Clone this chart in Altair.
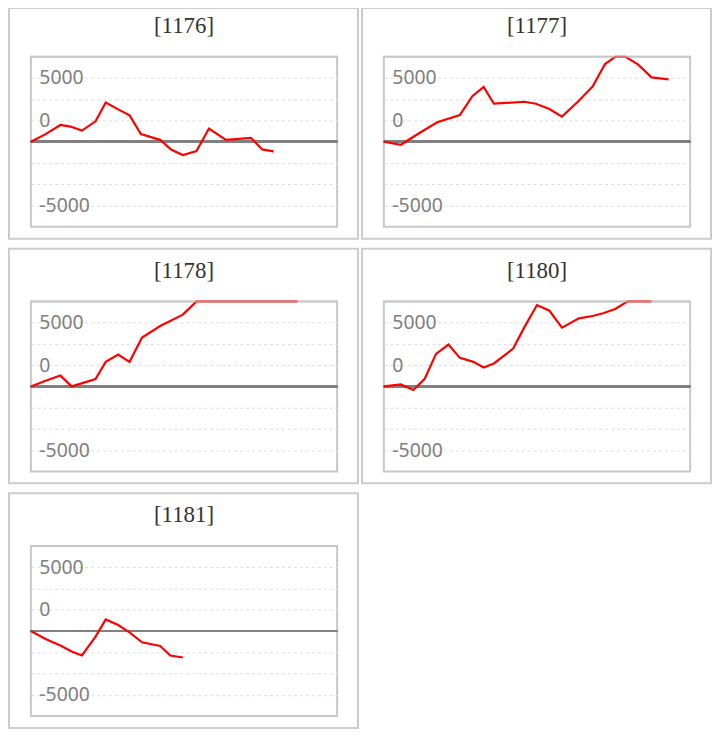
import altair as alt
import pandas as pd

# ---- data ----
panel_ids = ["[1176]", "[1177]", "[1178]", "[1180]", "[1181]"]

x_1176 = [0, 1.3, 2.6, 3.5, 4.5, 5.7, 6.6, 7.7, 8.7, 9.7, 11.4, 12.4, 13.4, 14.6, 15.7, 17.2, 19.4, 20.4, 21.4]
y_1176 = [0, 900, 1980, 1790, 1320, 2410, 4630, 3810, 3110, 900, 230, -930, -1560, -1090, 1560, 230, 470, -900, -1130]

x_1177 = [0, 1.5, 3.1, 4.7, 6.7, 7.8, 8.8, 9.7, 12.4, 13.4, 14.6, 15.7, 17.1, 18.4, 19.5, 20.4, 21.3, 22.4, 23.6, 25.1]
y_1177 = [0, -350, 1000, 2300, 3150, 5370, 6460, 4480, 4710, 4480, 3850, 2960, 4700, 6500, 9140, 10500, 10400, 9100, 7580, 7350]

x_1178 = [0, 1.3, 2.6, 3.6, 5.7, 6.6, 7.7, 8.7, 9.8, 11.4, 13.4, 14.6, 15.7, 17.2, 19.4, 20.4, 21.4, 22.4, 23.5]
y_1178 = [0, 660, 1290, 0, 860, 2890, 3750, 2890, 5740, 7110, 8440, 10200, 11000, 11600, 12100, 12600, 12300, 12800, 13200]

x_1180 = [0, 1.5, 2.6, 3.6, 4.6, 5.7, 6.7, 7.9, 8.8, 9.7, 11.4, 12.4, 13.5, 14.6, 15.7, 17.2, 18.4, 19.4, 20.4, 21.5, 22.4, 23.6]
y_1180 = [0, 235, -430, 900, 3830, 4920, 3360, 2890, 2230, 2700, 4450, 7000, 9570, 8900, 6910, 8000, 8280, 8630, 9100, 10100, 10600, 11000]

x_1181 = [0, 1.3, 2.6, 3.6, 4.5, 5.7, 6.6, 7.7, 8.7, 9.8, 11.4, 12.3, 13.4]
y_1181 = [0, -935, -1710, -2410, -2880, -660, 1360, 700, -160, -1320, -1750, -2880, -3110]

series_x = [x_1176, x_1177, x_1178, x_1180, x_1181]
series_y = [y_1176, y_1177, y_1178, y_1180, y_1181]

grid_values = [-7500, -5000, -2500, 2500, 5000, 7500]
tick_values = [7500, 2500, -7500]
tick_labels = ["5000", "0", "-5000"]

y_domain = [-10000, 10000]
x_domain = [0, 27]

W, H = 308, 171

label_expr = " : ".join(
    f"datum.value == {v} ? '{t}'" for v, t in zip(tick_values, tick_labels)
) + " : ''"


def panel(pid, xs, ys, first_row):
    df = pd.DataFrame({"x": xs, "y": ys})
    base = alt.Chart(df)
    one = alt.Data(values=[{"a": 1}])

    frame = alt.Chart(one).mark_rect(
        filled=False, stroke="#cccccc", strokeWidth=2
    ).encode(
        x=alt.value(-22), x2=alt.value(W + 21),
        y=alt.value(-49 if first_row else -53), y2=alt.value(H + 12),
    )

    title = alt.Chart(one).mark_text(
        font="Liberation Serif", fontSize=23, color="#333333",
        align="center", baseline="middle",
    ).encode(x=alt.value(W / 2), y=alt.value(-31), text=alt.value(pid))

    line = base.mark_line(color="#ff0000", strokeWidth=2.2).encode(
        x=alt.X("x:Q", scale=alt.Scale(domain=x_domain, nice=False, zero=False), axis=None),
        y=alt.Y(
            "y:Q",
            scale=alt.Scale(domain=y_domain, nice=False, clamp=True),
            axis=alt.Axis(
                values=grid_values, tickCount=30, labelExpr=label_expr, grid=True,
                gridDash=[3, 3], gridColor="#dddddd", gridWidth=1,
                domain=False, ticks=False, labelAlign="left", labelPadding=-8,
                labelBaseline="middle", labelFontSize=19.5, labelColor="#7f7f7f",
                labelFont="Noto Sans", title="", labelOverlap=False,
            ),
        ),
    )

    zero = base.mark_rule(color="#808080", strokeWidth=2).encode(y=alt.datum(0))

    top_edge = alt.Chart(one).mark_rule(
        color="#c8c8c8", strokeWidth=2.2, opacity=0.6
    ).encode(x=alt.value(0), x2=alt.value(W), y=alt.value(0))

    return alt.layer(frame, title, zero, line, top_edge).properties(width=W, height=H)


charts = [
    panel(p, xs, ys, i < 2)
    for i, (p, xs, ys) in enumerate(zip(panel_ids, series_x, series_y))
]

chart = alt.concat(*charts, columns=2).properties(
    bounds="flush", spacing={"row": 75, "column": 47},
    padding={"top": -4, "left": -1, "right": 0, "bottom": 0},
).configure_view(stroke="#c8c8c8", strokeWidth=2)

chart.save("out.html", embed_options={"renderer": "svg", "actions": False})
